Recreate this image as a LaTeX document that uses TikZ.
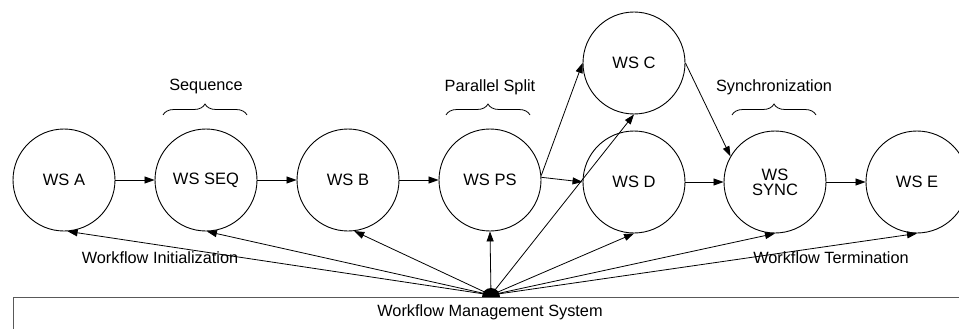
\documentclass[tikz,border=0pt]{standalone}
\usepackage{fontspec}
\setmainfont{Liberation Sans}
\usetikzlibrary{arrows.meta,decorations.pathreplacing}
\begin{document}
\begin{tikzpicture}[x=1pt,y=-1pt,
  ws/.style={draw,circle,line width=0.9pt,minimum size=102pt,inner sep=0pt,align=center,font=\fontsize{16.5}{17}\selectfont},
  lbl/.style={font=\fontsize{16.3}{17}\selectfont,inner sep=0pt},
  arr/.style={line width=0.8pt,-{Triangle[length=10pt,width=7pt]}},
  brc/.style={line width=0.8pt,decorate,decoration={brace,amplitude=11pt}}]
\useasboundingbox (0,0) rectangle (959,329);
\node[ws] (a) at (64,180) {WS A};
\node[ws] (seq) at (206,180) {WS SEQ};
\node[ws] (b) at (348,180) {WS B};
\node[ws] (ps) at (490,180) {WS PS};
\node[ws] (c) at (634,63) {WS C};
\node[ws] (d) at (634,182) {WS D};
\node[ws] (sync) at (775,182) {WS\\[-2pt]SYNC};
\node[ws] (e) at (917,182) {WS E};
% workflow management system box
\draw[line width=0.8pt,gray!70!black] (13,329) -- (13,297) -- (959,297);
\node[lbl] (wms) at (490,312) {Workflow Management System};
\coordinate (hub) at (491,295);
% sequence arrows
\draw[arr] (a) -- (seq);
\draw[arr] (seq) -- (b);
\draw[arr] (b) -- (ps);
\draw[arr] (ps.3) -- (d.west);
\draw[arr] (ps.5) -- (c.west);
\draw[arr] (d) -- (sync);
\draw[arr] (c.east) -- (sync.150);
\draw[arr] (sync) -- (e);
% hub arrows
\draw[arr] (hub) -- (a.-86);
\draw[arr] (hub) -- (seq.-89);
\draw[arr] (hub) -- (b.-83);
\draw[arr] (hub) -- (ps.south);
\draw[arr] (hub) -- (c.south);
\draw[arr] (hub) -- (d.south);
\draw[arr] (hub) -- (sync.south);
\draw[arr] (hub) -- (e.south);
\fill (hub) ++(-9,2) arc[start angle=180,end angle=360,radius=9] -- cycle;
% labels
\node[lbl] (seql) at (206,87) {Sequence};
\node[lbl] (psl) at (490,87) {Parallel Split};
\node[lbl] (syncl) at (774,87) {Synchronization};
\node[lbl] (init) at (160,258) {Workflow Initialization};
\node[lbl] (term) at (831,258) {Workflow Termination};
% braces
\draw[brc] (163,115) -- (247,115);
\draw[brc] (446,115) -- (530,115);
\draw[brc] (732,115) -- (816,115);
\end{tikzpicture}
\end{document}
